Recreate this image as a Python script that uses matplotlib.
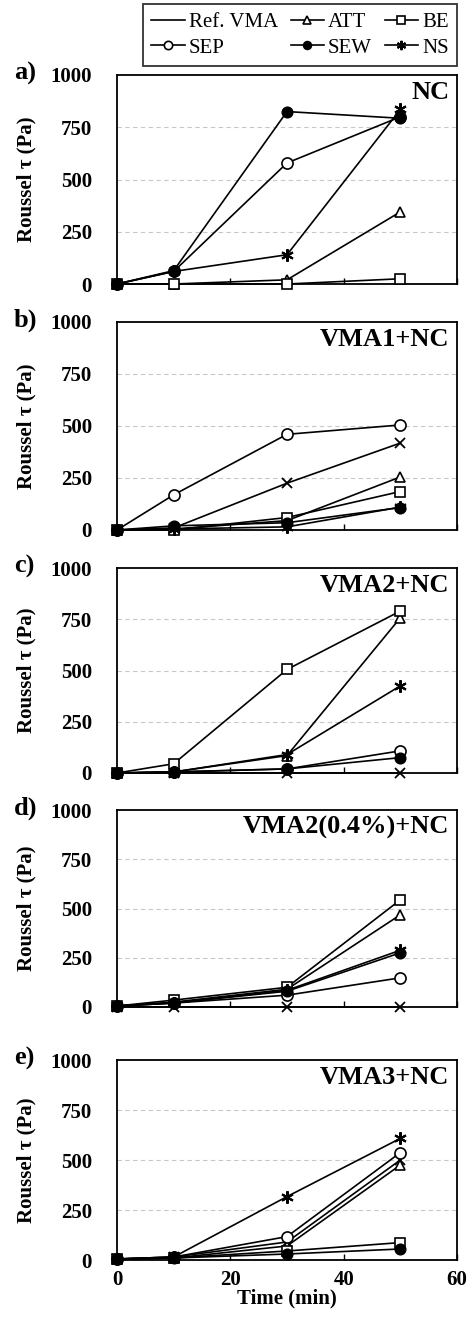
import matplotlib.pyplot as plt
from matplotlib.lines import Line2D

plt.rcParams['font.family'] = ['Liberation Serif', 'DejaVu Serif']

time_min = [0, 10, 30, 50]
series_names = ['Ref. VMA', 'ATT', 'BE', 'SEP', 'SEW', 'NS']
panel_letters = ['a)', 'b)', 'c)', 'd)', 'e)']
panel_titles = ['NC', 'VMA1+NC', 'VMA2+NC', 'VMA2(0.4%)+NC', 'VMA3+NC']

# panel a) NC  (no reference curve)
ref_a = None
att_a = [0, 0, 20, 345]
be_a = [0, 0, 0, 25]
sep_a = [0, 60, 579, 800]
sew_a = [0, 64, 825, 793]
ns_a = [0, 60, 140, 835]

# panel b) VMA1+NC
ref_b = [0, 10, 225, 418]
att_b = [0, 5, 45, 255]
be_b = [0, 0, 60, 185]
sep_b = [0, 169, 460, 505]
sew_b = [0, 20, 35, 108]
ns_b = [0, 5, 15, 110]

# panel c) VMA2+NC
ref_c = [0, 0, 0, 0]
att_c = [0, 5, 85, 757]
be_c = [0, 45, 505, 790]
sep_c = [0, 5, 20, 108]
sew_c = [0, 5, 20, 75]
ns_c = [0, 5, 90, 425]

# panel d) VMA2(0.4%)+NC
ref_d = [0, 0, 0, 0]
att_d = [5, 25, 90, 468]
be_d = [5, 35, 100, 544]
sep_d = [5, 20, 60, 148]
sew_d = [5, 20, 80, 275]
ns_d = [5, 20, 85, 288]

# panel e) VMA3+NC
ref_e = [5, 15, 90, 500]
att_e = [5, 10, 70, 475]
be_e = [5, 10, 45, 87]
sep_e = [5, 15, 117, 537]
sew_e = [5, 10, 30, 55]
ns_e = [5, 15, 317, 608]

panels = [
    [ref_a, att_a, be_a, sep_a, sew_a, ns_a],
    [ref_b, att_b, be_b, sep_b, sew_b, ns_b],
    [ref_c, att_c, be_c, sep_c, sew_c, ns_c],
    [ref_d, att_d, be_d, sep_d, sew_d, ns_d],
    [ref_e, att_e, be_e, sep_e, sew_e, ns_e],
]

styles = [
    dict(marker='x', ms=7, mfc='black', mew=1.3),
    dict(marker='^', ms=7.5, mfc='white', mew=1.2),
    dict(marker='s', ms=7.5, mfc='white', mew=1.2),
    dict(marker='o', ms=8, mfc='white', mew=1.2),
    dict(marker='o', ms=7.5, mfc='black', mew=1.2),
    dict(marker=(6, 2, 0), ms=9, mfc='black', mew=1.5),
]

W, H = 470, 1319
fig = plt.figure(figsize=(W / 100, H / 100), dpi=100)

# pixel boxes (top, bottom) of each panel
boxes = [(75, 284), (322, 530), (568, 773), (810, 1007), (1060, 1260)]
left, right = 117, 457

for i, (top, bot) in enumerate(boxes):
    ax = fig.add_axes([left / W, 1 - bot / H, (right - left) / W, (bot - top) / H])
    for data, st in zip(panels[i], styles):
        if data is None:
            continue
        ax.plot(time_min, data, color='black', lw=1.2, mec='black',
                clip_on=False, zorder=3, **st)
    ax.set_xlim(0, 60)
    ax.set_ylim(0, 1000)
    ax.set_xticks([0, 20, 40, 60])
    ax.set_yticks([0, 250, 500, 750, 1000])
    for yv in [250, 500, 750]:
        ax.axhline(yv, color='#c8c8c8', lw=0.8, ls=(0, (4, 3)), zorder=1)
    ax.tick_params(axis='x', direction='in', length=4, width=1, pad=7)
    ax.tick_params(axis='y', direction='in', length=0, pad=18)
    for lab in ax.get_yticklabels():
        lab.set_fontweight('bold')
        lab.set_fontsize(15)
    if i < 4:
        ax.set_xticklabels([])
    else:
        for lab in ax.get_xticklabels():
            lab.set_fontweight('bold')
            lab.set_fontsize(15)
        ax.set_xlabel('Time (min)', fontsize=15, fontweight='bold', labelpad=-1)
    for sp in ax.spines.values():
        sp.set_linewidth(1.3)
    ax.set_ylabel('Roussel τ (Pa)', fontsize=15, fontweight='bold')
    ax.yaxis.set_label_coords(-81 / (right - left), 0.5)
    ax.text(0.978, 0.97, panel_titles[i], transform=ax.transAxes,
            ha='right', va='top', fontsize=19, fontweight='bold')
    fig.text(14 / W, 1 - (top - 2) / H, panel_letters[i], ha='left', va='center',
             fontsize=19, fontweight='bold')

handles = []
for name, st in zip(series_names, styles):
    if name == 'Ref. VMA':
        handles.append(Line2D([], [], color='black', lw=1.2))
    else:
        s = dict(st)
        s['ms'] = s['ms'] * 0.75
        handles.append(Line2D([], [], color='black', lw=1.2, mec='black', **s))
order = [0, 3, 1, 4, 2, 5]
leg = fig.legend([handles[k] for k in order], [series_names[k] for k in order],
                 ncol=3, loc='upper right', bbox_to_anchor=(457 / W, 1 - 4 / H),
                 fontsize=15, frameon=True, fancybox=False, edgecolor='black',
                 handlelength=1.6, handletextpad=0.2, columnspacing=0.6,
                 labelspacing=0.3, borderpad=0.4, borderaxespad=0)
leg.get_frame().set_linewidth(1.3)

fig.savefig('out.png', dpi=100)
